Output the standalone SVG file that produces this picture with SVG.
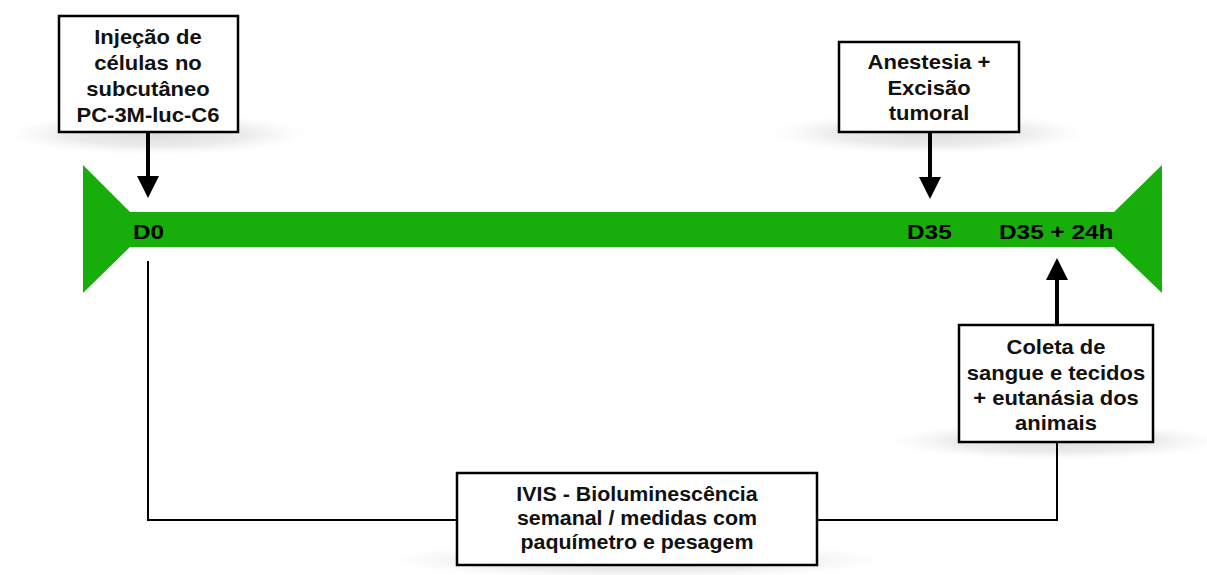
<svg xmlns="http://www.w3.org/2000/svg" width="1207" height="575" viewBox="0 0 1207 575">
  <style>
    .box { fill: #ffffff; stroke: #000000; stroke-width: 2.5; }
    .t { font-family: "Liberation Sans", Arial, Helvetica, sans-serif; font-weight: bold; font-size: 20px; fill: #111111; text-anchor: middle; }
    .lbl { font-family: "Liberation Sans", Arial, Helvetica, sans-serif; font-weight: bold; font-size: 21px; fill: #000000; }
    .arrow { stroke: #000000; stroke-width: 4; fill: none; }
    .conn { stroke: #000000; stroke-width: 2; fill: none; }
  </style>
  <defs>
    <radialGradient id="shadow" cx="50%" cy="50%" r="50%">
      <stop offset="0" stop-color="#dedede"/>
      <stop offset="0.6" stop-color="#ececec"/>
      <stop offset="1" stop-color="#f6f6f6" stop-opacity="0"/>
    </radialGradient>
    <marker id="head" markerUnits="userSpaceOnUse" markerWidth="22" markerHeight="22" viewBox="0 0 22 22" refX="10" refY="11" orient="auto">
      <path d="M0,0 L22,11 L0,22 Z" fill="#000000"/>
    </marker>
  </defs>
  <rect width="1207" height="575" fill="#ffffff"/>

  <!-- shadows -->
  <ellipse cx="157" cy="134" rx="152" ry="21" fill="url(#shadow)"/>
  <ellipse cx="929" cy="133" rx="160" ry="21" fill="url(#shadow)"/>
  <ellipse cx="1056" cy="441" rx="168" ry="19" fill="url(#shadow)"/>
  <ellipse cx="637" cy="560" rx="250" ry="19" fill="url(#shadow)"/>

  <!-- timeline -->
  <g id="timeline">
    <polygon points="83,165 130,212 1114,212 1162,165 1162,293 1114,247 130,247 83,293" fill="#17ad0b"/>
    <text class="lbl" transform="translate(133,239) scale(1.16,1)">D0</text>
    <text class="lbl" transform="translate(907,239) scale(1.16,1)">D35</text>
    <text class="lbl" transform="translate(999,239) scale(1.16,1)">D35 + 24h</text>
  </g>

  <!-- connectors -->
  <g id="connectors">
    <line class="arrow" x1="148" y1="132" x2="148" y2="186" marker-end="url(#head)"/>
    <line class="arrow" x1="930" y1="132" x2="930" y2="187" marker-end="url(#head)"/>
    <line class="arrow" x1="1057" y1="325" x2="1057" y2="270" marker-end="url(#head)"/>
    <polyline class="conn" points="148,261 148,520 457,520"/>
    <polyline class="conn" points="817,520 1057,520 1057,442"/>
  </g>

  <g id="node-injecao">
    <rect class="box" x="59" y="16" width="179" height="116"/>
    <text class="t" transform="translate(148,44) scale(1.1,1)">Injeção de</text>
    <text class="t" transform="translate(148,70) scale(1.1,1)">células no</text>
    <text class="t" transform="translate(148,96) scale(1.1,1)">subcutâneo</text>
    <text class="t" transform="translate(148,122) scale(1.1,1)">PC-3M-luc-C6</text>
  </g>

  <g id="node-anestesia">
    <rect class="box" x="839" y="42" width="180" height="90"/>
    <text class="t" transform="translate(929,69) scale(1.1,1)">Anestesia +</text>
    <text class="t" transform="translate(929,95) scale(1.1,1)">Excisão</text>
    <text class="t" transform="translate(929,120) scale(1.1,1)">tumoral</text>
  </g>

  <g id="node-coleta">
    <rect class="box" x="959" y="325" width="194" height="117"/>
    <text class="t" transform="translate(1056,354) scale(1.1,1)">Coleta de</text>
    <text class="t" transform="translate(1056,380) scale(1.1,1)">sangue e tecidos</text>
    <text class="t" transform="translate(1056,405) scale(1.1,1)">+ eutanásia dos</text>
    <text class="t" transform="translate(1056,430) scale(1.1,1)">animais</text>
  </g>

  <g id="node-ivis">
    <rect class="box" x="457" y="473" width="360" height="92"/>
    <text class="t" transform="translate(637,501) scale(1.07,1)">IVIS - Bioluminescência</text>
    <text class="t" transform="translate(637,525) scale(1.07,1)">semanal / medidas com</text>
    <text class="t" transform="translate(637,549) scale(1.07,1)">paquímetro e pesagem</text>
  </g>
</svg>
